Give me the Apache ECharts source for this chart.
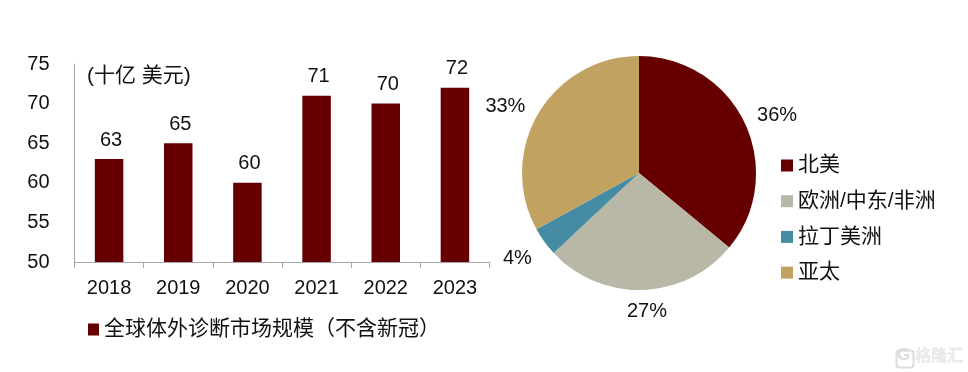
<!DOCTYPE html>
<html><head><meta charset="utf-8">
<style>html,body{margin:0;padding:0;background:#fff}#c{width:968px;height:372px}</style>
<script src="https://cdn.jsdelivr.net/npm/echarts@6/dist/echarts.min.js"></script>
</head><body><div id="c"></div>
<script>
const years = ['2018','2019','2020','2021','2022','2023'];
const marketSize = [63,65,60,71,70,72];
const barSeriesName = '全球体外诊断市场规模（不含新冠）';
const regions = ['北美','欧洲/中东/非洲','拉丁美洲','亚太'];
const regionShares = [36,27,4,33];
const regionColors = ['#660000','#b9b8a6','#448ba3','#c1a261'];
const unitLabel = '(十亿 美元)';
const font = '"Liberation Sans","Noto Sans CJK SC",sans-serif';
const txt = '#111111';
const pieLabelShift = [[-4,-4],[-25,14],[3,12],[3,-3]];
const chart = echarts.init(document.getElementById('c'));
chart.setOption({
  animation:false, backgroundColor:'#fff',
  title:[{text:unitLabel,left:87,top:66,textStyle:{fontFamily:font,fontSize:21,fontWeight:'normal',color:txt},padding:0}],
  grid:{left:74.5,top:64,width:415,height:198},
  xAxis:{type:'category',data:years,
    axisLine:{lineStyle:{color:'#a6a6a6',width:1}},
    axisTick:{show:true,length:6,lineStyle:{color:'#a6a6a6'}},
    axisLabel:{fontFamily:font,fontSize:20,color:txt,margin:16}},
  yAxis:{type:'value',min:50,max:75,interval:5,
    axisLine:{show:true,lineStyle:{color:'#a6a6a6',width:1}},
    axisTick:{show:false},splitLine:{show:false},
    axisLabel:{fontFamily:font,fontSize:20,color:txt,margin:25}},
  legend:[
    {data:[{name:barSeriesName,icon:'rect'}],left:88,top:319,itemWidth:11,itemHeight:12,itemGap:5,padding:0,
     textStyle:{fontFamily:font,fontSize:21,color:txt,padding:[0,0,0,0]}},
    {data:regions.map(n=>({name:n,icon:'rect'})),left:781,top:155,orient:'vertical',itemWidth:12,itemHeight:12,itemGap:14.7,padding:0,
     textStyle:{fontFamily:font,fontSize:21,color:txt,padding:[0,0,0,0]}}
  ],
  series:[
    {type:'bar',name:barSeriesName,data:marketSize,barWidth:28.5,
     itemStyle:{color:'#660000'},
     label:{show:true,position:'top',distance:9,offset:[2,0],fontFamily:font,fontSize:20,color:txt}},
    {type:'pie',center:[639,173],radius:[0,117],startAngle:90,clockwise:true,
     data:regions.map((n,i)=>({name:n,value:regionShares[i],itemStyle:{color:regionColors[i]}})),
     label:{show:true,position:'outside',formatter:'{c}%',fontFamily:font,fontSize:20,color:txt,alignTo:'none'},
     labelLine:{show:false,length:8,length2:4},
     labelLayout:p=>({dx:pieLabelShift[p.dataIndex][0],dy:pieLabelShift[p.dataIndex][1]}),
     itemStyle:{borderWidth:0}}
  ],
  graphic:[
    {type:'rect',left:894,top:348,shape:{width:17,height:17,r:3},style:{fill:'none',stroke:'#dcdcdc',lineWidth:2}},
    {type:'text',left:897,top:347,style:{text:'G',fontFamily:'"Liberation Sans"',fontSize:17,fontWeight:'bold',fill:'#dcdcdc'}},
    {type:'text',left:915,top:347,style:{text:'格隆汇',fontFamily:'"Noto Sans CJK SC"',fontSize:16,fill:'#ececec',stroke:'#d4d4d4',lineWidth:0.5}}
  ]
});
</script></body></html>
